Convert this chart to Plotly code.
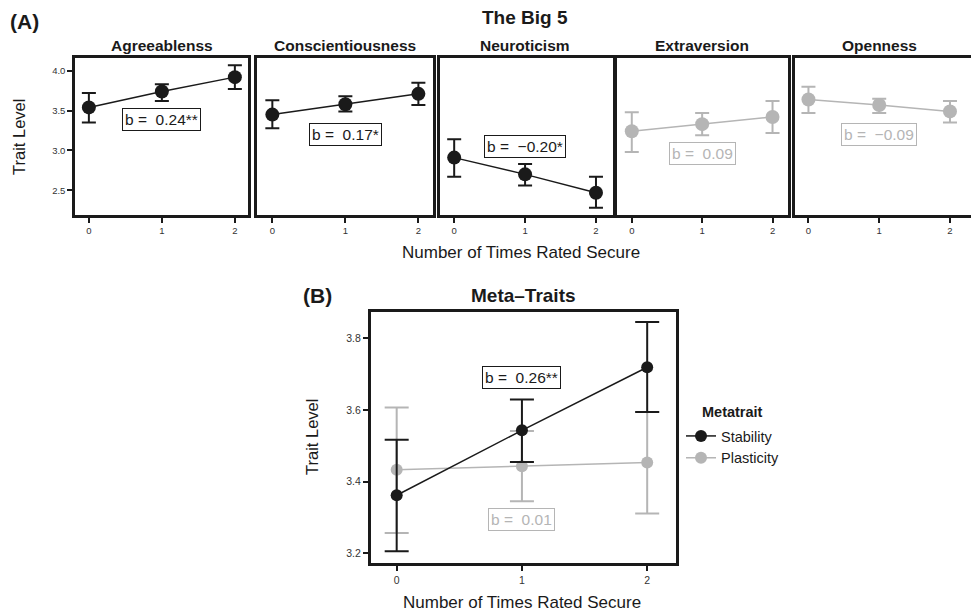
import plotly.graph_objects as go

# page body adds an 8px margin, so the figure is sized to fill the rest
OFF = 8
W, H = 979 - OFF, 614 - OFF

# ---------------- data ----------------
x_times = [0, 1, 2]

big5_traits = ["Agreeablenss", "Conscientiousness", "Neuroticism", "Extraversion", "Openness"]
big5_mean = [
    [3.54, 3.74, 3.92],
    [3.45, 3.58, 3.71],
    [2.91, 2.70, 2.47],
    [3.24, 3.33, 3.42],
    [3.64, 3.57, 3.49],
]
big5_lower = [
    [3.35, 3.62, 3.77],
    [3.28, 3.49, 3.57],
    [2.67, 2.56, 2.28],
    [2.98, 3.19, 3.22],
    [3.47, 3.47, 3.35],
]
big5_upper = [
    [3.72, 3.83, 4.07],
    [3.63, 3.68, 3.85],
    [3.14, 2.83, 2.67],
    [3.48, 3.47, 3.62],
    [3.80, 3.65, 3.62],
]
big5_b_text = ["b =\u00a0\u00a00.24**", "b =\u00a0\u00a00.17*", "b =\u00a0\u00a0\u22120.20*",
               "b =\u00a0\u00a00.09", "b =\u00a0\u00a0\u22120.09"]
big5_b_y = [3.39, 3.20, 3.05, 2.96, 3.20]
big5_signif = [True, True, True, False, False]

meta_names = ["Stability", "Plasticity"]
meta_mean = [[3.362, 3.543, 3.719], [3.433, 3.443, 3.453]]
meta_lower = [[3.206, 3.455, 3.594], [3.257, 3.345, 3.311]]
meta_upper = [[3.517, 3.629, 3.845], [3.607, 3.541, 3.594]]
meta_b_text = ["b =\u00a0\u00a00.26**", "b =\u00a0\u00a00.01"]
meta_b_y = [3.689, 3.293]
meta_signif = [True, False]

big5_yticks = [2.5, 3.0, 3.5, 4.0]
meta_yticks = [3.2, 3.4, 3.6, 3.8]

# ---------------- style ----------------
BLACK = "#1a1a1a"
GREY = "#b5b5b5"
TICKCOL = "#333333"
FONT = "Liberation Sans, Arial, sans-serif"

def px_x(p):
    return (p - OFF) / W

def px_y(p):
    return 1 - (p - OFF) / H

panel_x = [(75, 248), (257, 433), (440, 613), (617, 788), (795, 979)]
panel_xrange = [[-0.19, 2.18], [-0.21, 2.2], [-0.2, 2.24], [-0.21, 2.22], [-0.19, 2.41]]
panel_title_x = [162, 345, 525, 702, 879]
A_top, A_bot = 58, 215
B_left, B_right, B_top, B_bot = 371, 676, 312, 563

fig = go.Figure()
annotations = []

for i, trait in enumerate(big5_traits):
    col = BLACK if big5_signif[i] else GREY
    xa = "x" if i == 0 else f"x{i+1}"
    ya = "y" if i == 0 else f"y{i+1}"
    m = big5_mean[i]
    up = [u - v for u, v in zip(big5_upper[i], m)]
    lo = [v - l for v, l in zip(m, big5_lower[i])]
    fig.add_trace(go.Scatter(
        x=x_times, y=m, mode="lines+markers", xaxis=xa, yaxis=ya,
        line=dict(color=col, width=1.5),
        marker=dict(color=col, size=14),
        error_y=dict(type="data", symmetric=False, array=up, arrayminus=lo,
                     color=col, thickness=2, width=7),
        showlegend=False, hoverinfo="skip",
    ))
    annotations.append(dict(
        x=1, y=big5_b_y[i], xref=xa, yref=ya, text=big5_b_text[i], showarrow=False,
        font=dict(family=FONT, size=15.5, color=col),
        bordercolor=col, borderwidth=1, borderpad=2, bgcolor="white",
    ))
    annotations.append(dict(
        x=px_x(panel_title_x[i]), y=px_y(46), xref="paper", yref="paper",
        text=f"<b>{trait}</b>", showarrow=False,
        font=dict(family=FONT, size=15.5, color=BLACK),
        xanchor="center", yanchor="middle",
    ))

# meta traits (Plasticity drawn first so Stability sits above)
for j in [1, 0]:
    col = BLACK if meta_signif[j] else GREY
    m = meta_mean[j]
    up = [u - v for u, v in zip(meta_upper[j], m)]
    lo = [v - l for v, l in zip(m, meta_lower[j])]
    fig.add_trace(go.Scatter(
        x=x_times, y=m, mode="lines+markers", xaxis="x6", yaxis="y6",
        name=meta_names[j], legendrank=j + 1,
        line=dict(color=col, width=1.5),
        marker=dict(color=col, size=12),
        error_y=dict(type="data", symmetric=False, array=up, arrayminus=lo,
                     color=col, thickness=2, width=12),
        showlegend=True, hoverinfo="skip",
    ))
for j in range(2):
    col = BLACK if meta_signif[j] else GREY
    annotations.append(dict(
        x=1, y=meta_b_y[j], xref="x6", yref="y6", text=meta_b_text[j], showarrow=False,
        font=dict(family=FONT, size=15.5, color=col),
        bordercolor=col, borderwidth=1, borderpad=2, bgcolor="white",
    ))

def txt(x, y, s, size, bold=False, angle=0, anchor="center"):
    annotations.append(dict(
        x=px_x(x), y=px_y(y), xref="paper", yref="paper",
        text=f"<b>{s}</b>" if bold else s, showarrow=False, textangle=angle,
        font=dict(family=FONT, size=size, color=BLACK),
        xanchor=anchor, yanchor="middle",
    ))

txt(8, 22, "(A)", 21, bold=True, anchor="left")
txt(525, 17, "The Big 5", 19, bold=True)
txt(19, 137, "Trait Level", 16.5, angle=-90)
txt(521, 252, "Number of Times Rated Secure", 17)
txt(301, 295, "(B)", 21, bold=True, anchor="left")
txt(523, 295, "Meta\u2013Traits", 19, bold=True)
txt(312, 437, "Trait Level", 16.5, angle=-90)
txt(522, 602, "Number of Times Rated Secure", 17)
txt(700, 412, "Metatrait", 14.5, bold=True, anchor="left")

layout = dict(
    width=W, height=H, margin=dict(l=0, r=0, t=0, b=0),
    paper_bgcolor="white", plot_bgcolor="white",
    font=dict(family=FONT, color=TICKCOL),
    annotations=annotations,
    legend=dict(
        x=px_x(681), y=px_y(420), xanchor="left", yanchor="top",
        font=dict(family=FONT, size=14.5, color=BLACK),
        bgcolor="rgba(0,0,0,0)", tracegroupgap=0, itemwidth=30,
    ),
)

for i in range(5):
    xk = "xaxis" if i == 0 else f"xaxis{i+1}"
    yk = "yaxis" if i == 0 else f"yaxis{i+1}"
    ya_name = "y" if i == 0 else f"y{i+1}"
    xa_name = "x" if i == 0 else f"x{i+1}"
    layout[xk] = dict(
        domain=[px_x(panel_x[i][0]), min(1.0, px_x(panel_x[i][1]))], anchor=ya_name,
        range=panel_xrange[i], tickvals=x_times, ticktext=[str(v) for v in x_times],
        showgrid=False, zeroline=False, showline=True, linecolor=BLACK, linewidth=2.5,
        mirror=True, ticks="outside", ticklen=5, tickwidth=2, tickcolor=BLACK,
        tickfont=dict(family=FONT, size=9.5, color=TICKCOL),
    )
    layout[yk] = dict(
        domain=[px_y(A_bot), px_y(A_top)], anchor=xa_name,
        range=[2.19, 4.16], tickvals=big5_yticks,
        ticktext=[f"{v:.1f}" for v in big5_yticks],
        showticklabels=(i == 0), ticks="outside" if i == 0 else "",
        ticklen=5, tickwidth=2, tickcolor=BLACK,
        showgrid=False, zeroline=False, showline=True, linecolor=BLACK, linewidth=2.5,
        mirror=(i != 4),
        tickfont=dict(family=FONT, size=9.5, color=TICKCOL),
    )

layout["xaxis6"] = dict(
    domain=[px_x(B_left), px_x(B_right)], anchor="y6",
    range=[-0.205, 2.23], tickvals=x_times, ticktext=[str(v) for v in x_times],
    showgrid=False, zeroline=False, showline=True, linecolor=BLACK, linewidth=3,
    mirror=True, ticks="outside", ticklen=5, tickwidth=2, tickcolor=BLACK,
    tickfont=dict(family=FONT, size=10.5, color=TICKCOL),
)
layout["yaxis6"] = dict(
    domain=[px_y(B_bot), px_y(B_top)], anchor="x6",
    range=[3.173, 3.873], tickvals=meta_yticks,
    ticktext=[f"{v:.1f}" for v in meta_yticks],
    showgrid=False, zeroline=False, showline=True, linecolor=BLACK, linewidth=3,
    mirror=True, ticks="outside", ticklen=5, tickwidth=2, tickcolor=BLACK,
    tickfont=dict(family=FONT, size=10.5, color=TICKCOL),
)

fig.update_layout(**layout)
fig.write_html("out.html")
